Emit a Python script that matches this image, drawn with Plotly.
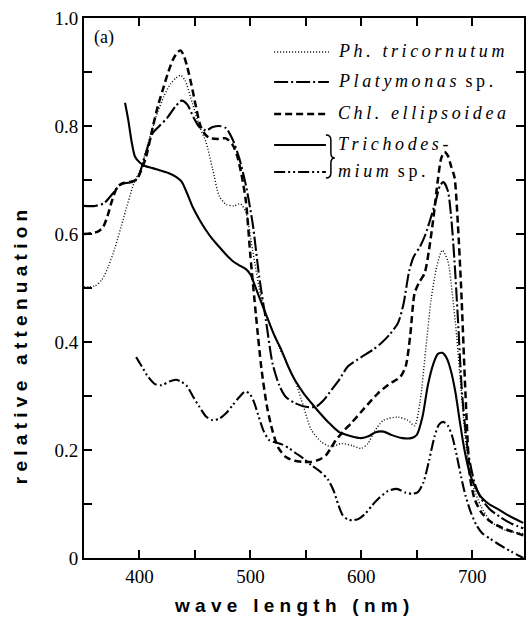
import plotly.graph_objects as go

# ---------------- data ----------------
ph_x = [350, 360, 366, 372, 378, 386, 395, 401, 408, 415, 422, 428, 433, 437, 441, 446, 454, 460, 466, 472,
        478, 485, 491, 496, 502, 510, 518, 526, 534, 541, 548, 555, 564, 573, 582, 592, 600, 606, 612, 620,
        633, 642, 648, 653, 658, 663, 668, 673, 678, 682, 686, 690, 695, 700, 708, 717, 729, 746]
ph_y = [0.502, 0.504, 0.515, 0.54, 0.575, 0.632, 0.694, 0.72, 0.77, 0.817, 0.855, 0.878, 0.889, 0.894, 0.885,
        0.854, 0.80, 0.77, 0.72, 0.67, 0.655, 0.652, 0.656, 0.64, 0.57, 0.48, 0.43, 0.39, 0.355, 0.324, 0.28,
        0.237, 0.215, 0.206, 0.212, 0.208, 0.203, 0.212, 0.235, 0.255, 0.261, 0.255, 0.245, 0.29, 0.385, 0.48,
        0.54, 0.57, 0.55, 0.49, 0.41, 0.31, 0.2, 0.139, 0.095, 0.067, 0.052, 0.045]

pl_x = [350, 360, 368, 376, 383, 390, 395, 399, 405, 412, 418, 425, 432, 438, 443, 449, 454, 460, 466, 472,
        478, 484, 490, 496, 502, 508, 514, 520, 526, 532, 540, 550, 559, 566, 573, 580, 588, 600, 610, 618,
        626, 633, 638, 643, 647, 653, 658, 662, 667, 671, 674, 678, 681, 684, 687, 691, 696, 702, 708, 716,
        726, 736, 746]
pl_y = [0.652, 0.652, 0.657, 0.675, 0.692, 0.695, 0.697, 0.706, 0.745, 0.787, 0.80, 0.815, 0.835, 0.847, 0.84,
        0.815, 0.798, 0.792, 0.798, 0.80, 0.796, 0.775, 0.74, 0.69, 0.62, 0.52, 0.44, 0.36, 0.32, 0.298,
        0.287, 0.28, 0.28, 0.292, 0.311, 0.33, 0.355, 0.372, 0.385, 0.398, 0.415, 0.435, 0.47, 0.53, 0.557,
        0.577, 0.6, 0.626, 0.66, 0.69, 0.696, 0.68, 0.632, 0.55, 0.446, 0.3, 0.2, 0.14, 0.11, 0.09, 0.075,
        0.063, 0.055]

chl_x = [350, 362, 367, 371, 375, 380, 385, 390, 397, 402, 406, 412, 417, 421, 426, 430, 434, 437, 440, 443,
         447, 451, 455, 459, 463, 470, 478, 484, 488, 492, 496, 500, 505, 510, 515, 520, 525, 532, 540, 548,
         555, 562, 568, 573, 577, 584, 591, 603, 615, 625, 635, 640, 644, 648, 652, 657, 661, 665, 669, 672,
         675, 678, 681, 684, 687, 690, 694, 698, 702, 708, 716, 728, 746]
chl_y = [0.6, 0.604, 0.612, 0.632, 0.66, 0.687, 0.694, 0.696, 0.7, 0.72, 0.743, 0.798, 0.84, 0.867, 0.9, 0.922,
         0.936, 0.94, 0.93, 0.91, 0.875, 0.835, 0.8, 0.785, 0.778, 0.776, 0.777, 0.765, 0.745, 0.71, 0.66, 0.56,
         0.45, 0.35, 0.28, 0.235, 0.205, 0.187, 0.18, 0.178, 0.178, 0.182, 0.19, 0.205, 0.218, 0.235, 0.25,
         0.278, 0.305, 0.322, 0.335, 0.355, 0.41, 0.49, 0.51, 0.527, 0.57, 0.63, 0.7, 0.74, 0.752, 0.745,
         0.725, 0.705, 0.62, 0.5, 0.3, 0.15, 0.11, 0.085, 0.068, 0.055, 0.042]

tr1_x = [387, 390, 393, 396, 400, 405, 412, 418, 426, 433, 438, 443, 448, 454, 460, 466, 472, 478, 484, 490,
         496, 500, 504, 508, 515, 521, 528, 534, 540, 548, 555, 562, 570, 580, 590, 600, 607, 613, 620, 627,
         637, 645, 650, 655, 660, 665, 669, 673, 677, 681, 685, 689, 693, 698, 703, 708, 715, 722, 729, 737, 746]
tr1_y = [0.843, 0.81, 0.77, 0.743, 0.733, 0.726, 0.722, 0.718, 0.713, 0.706, 0.697, 0.675, 0.65, 0.627, 0.607,
         0.59, 0.576, 0.562, 0.55, 0.542, 0.535, 0.525, 0.505, 0.483, 0.446, 0.415, 0.385, 0.355, 0.33, 0.305,
         0.287, 0.27, 0.252, 0.233, 0.226, 0.222, 0.226, 0.233, 0.234, 0.228, 0.222, 0.222, 0.228, 0.26, 0.32,
         0.36, 0.378, 0.38, 0.37, 0.345, 0.305, 0.25, 0.2, 0.155, 0.13, 0.113, 0.1, 0.092, 0.083, 0.074, 0.065]

tr2_x = [397, 402, 408, 414, 420, 427, 433, 438, 443, 448, 454, 460, 466, 472, 478, 484, 490, 495, 499, 503,
         507, 512, 517, 523, 529, 535, 541, 548, 555, 563, 570, 575, 579, 583, 588, 593, 598, 604, 610, 616,
         624, 632, 640, 646, 651, 656, 661, 666, 670, 674, 678, 682, 686, 690, 694, 699, 704, 709, 716, 724,
         735, 746]
tr2_y = [0.372, 0.355, 0.335, 0.322, 0.32, 0.327, 0.33, 0.326, 0.318, 0.3, 0.28, 0.262, 0.255, 0.258, 0.268,
         0.283, 0.298, 0.308, 0.305, 0.29, 0.265, 0.235, 0.218, 0.214, 0.21, 0.203, 0.194, 0.184, 0.172, 0.16,
         0.145, 0.125, 0.1, 0.08, 0.071, 0.07, 0.073, 0.083, 0.098, 0.111, 0.124, 0.128, 0.121, 0.119, 0.122,
         0.14, 0.18, 0.225, 0.247, 0.252, 0.245, 0.225, 0.19, 0.15, 0.115, 0.083, 0.06, 0.046, 0.036, 0.025,
         0.012, 0.0]

x_tickvals = [400, 500, 600, 700]
y_tickvals = [0, 0.2, 0.4, 0.6, 0.8, 1.0]
y_ticktext = ["0", "0.2", "0.4", "0.6", "0.8", "1.0"]

# legend labels: (italic part, upright part)
legend_labels = [("Ph. tricornutum", ""), ("Platymonas", "sp."), ("Chl. ellipsoidea", ""),
                 ("Trichodes-", ""), ("mium", "sp.")]

# ---------------- styles ----------------
DOT = "1px,2px"
DASHDOT = "14px,3px,2px,3px"
DASH = "7px,4px"
SOLID = "solid"
DASHDOTDOT = "11px,3px,2px,3px,2px,3px"

series = [
    (ph_x, ph_y, DOT, 1.4),
    (pl_x, pl_y, DASHDOT, 2.1),
    (chl_x, chl_y, DASH, 2.5),
    (tr1_x, tr1_y, SOLID, 2.1),
    (tr2_x, tr2_y, DASHDOTDOT, 2.1),
]

W, H = 526, 618
L, R, T, B = 84, 0, 18, 60
PW, PH = W - L - R, H - T - B


def xp(px):
    return (px - L) / PW


def yp(py):
    return (H - B - py) / PH


fig = go.Figure()
for xs, ys, dash, w in series:
    fig.add_trace(go.Scatter(x=xs, y=ys, mode="lines",
                             line=dict(color="black", width=w, dash=dash,
                                       shape="spline", smoothing=0.7),
                             showlegend=False, hoverinfo="skip"))

serif = "Liberation Serif, Times New Roman, serif"
sans = "Liberation Sans, Arial, sans-serif"


def letterspace(s, sep="\u2009"):
    return sep.join(s)


shapes = []
annotations = []

# legend (drawn by hand to match the original layout)
rows_y = [52, 82, 114, 145, 172]
dashes = [DOT, DASHDOT, DASH, SOLID, DASHDOTDOT]
widths = [1.4, 2.1, 2.3, 2.1, 2.1]
for i, ((ital, upr), ry) in enumerate(zip(legend_labels, rows_y)):
    x1 = 330 if i < 3 else 327
    shapes.append(dict(type="line", xref="paper", yref="paper",
                       x0=xp(275), x1=xp(x1), y0=yp(ry), y1=yp(ry),
                       line=dict(color="black", width=widths[i], dash=dashes[i])))
    txt = "<i>" + letterspace(ital) + "</i>"
    if upr:
        txt += "\u00a0\u00a0" + letterspace(upr)
    annotations.append(dict(xref="paper", yref="paper", x=xp(337), y=yp(ry - 1),
                            xanchor="left", yanchor="middle", showarrow=False,
                            text=txt, font=dict(family=serif, size=18, color="black")))

# bracket joining the two Trichodesmium entries
pts = "M {a},{b} Q {c},{b} {c},{d} L {c},{e} Q {c},{f} {g},{f} Q {c},{f} {c},{h} L {c},{i} Q {c},{j} {a},{j}".format(
    a=xp(327), c=xp(332), g=xp(336),
    b=yp(135), d=yp(140), e=yp(153), f=yp(158), h=yp(163), i=yp(173), j=yp(178))
shapes.append(dict(type="path", xref="paper", yref="paper", path=pts,
                   line=dict(color="black", width=1.5)))

# panel label
annotations.append(dict(xref="paper", yref="paper", x=xp(92), y=yp(37), showarrow=False,
                        xanchor="left", yanchor="middle",
                        text="(a)", font=dict(family=serif, size=18, color="black")))


def spaced(s):
    out = []
    for word in s.split(" "):
        out.append("\u00a0".join(word))
    return "\u00a0\u00a0\u00a0".join(out)


annotations.append(dict(xref="paper", yref="paper", x=xp(292), y=yp(605), showarrow=False,
                        xanchor="center", yanchor="middle",
                        text="<b>" + spaced("wave length (nm)") + "</b>",
                        font=dict(family=sans, size=19, color="black")))
annotations.append(dict(xref="paper", yref="paper", x=xp(20), y=yp(347), showarrow=False,
                        xanchor="center", yanchor="middle", textangle=-90,
                        text="<b>" + spaced("relative attenuation") + "</b>",
                        font=dict(family=sans, size=19, color="black")))

fig.update_layout(
    width=W, height=H, autosize=False,
    margin=dict(l=L, r=R, t=T, b=B, pad=0),
    paper_bgcolor="white", plot_bgcolor="white",
    shapes=shapes, annotations=annotations,
    showlegend=False,
)
fig.update_xaxes(range=[350, 350 + PW / 1.1143], showgrid=False, zeroline=False,
                 showline=True, linecolor="black", linewidth=2, mirror="ticks",
                 ticks="inside", ticklen=8, tickwidth=1.5, tickcolor="black",
                 tickvals=x_tickvals, ticktext=[str(v) for v in x_tickvals],
                 tickfont=dict(family=serif, size=19, color="black"),
                 minor=dict(dtick=50, tick0=350, ticks="inside", ticklen=8, tickwidth=1.5,
                            tickcolor="black", showgrid=False))
fig.update_yaxes(range=[0, 1], showgrid=False, zeroline=False,
                 showline=True, linecolor="black", linewidth=2, mirror="ticks",
                 ticks="inside", ticklen=8, tickwidth=1.5, tickcolor="black",
                 tickvals=y_tickvals, ticktext=y_ticktext,
                 tickfont=dict(family=serif, size=19, color="black"),
                 minor=dict(dtick=0.1, tick0=0, ticks="inside", ticklen=8, tickwidth=1.5,
                            tickcolor="black", showgrid=False))

fig.write_html("out.html")
